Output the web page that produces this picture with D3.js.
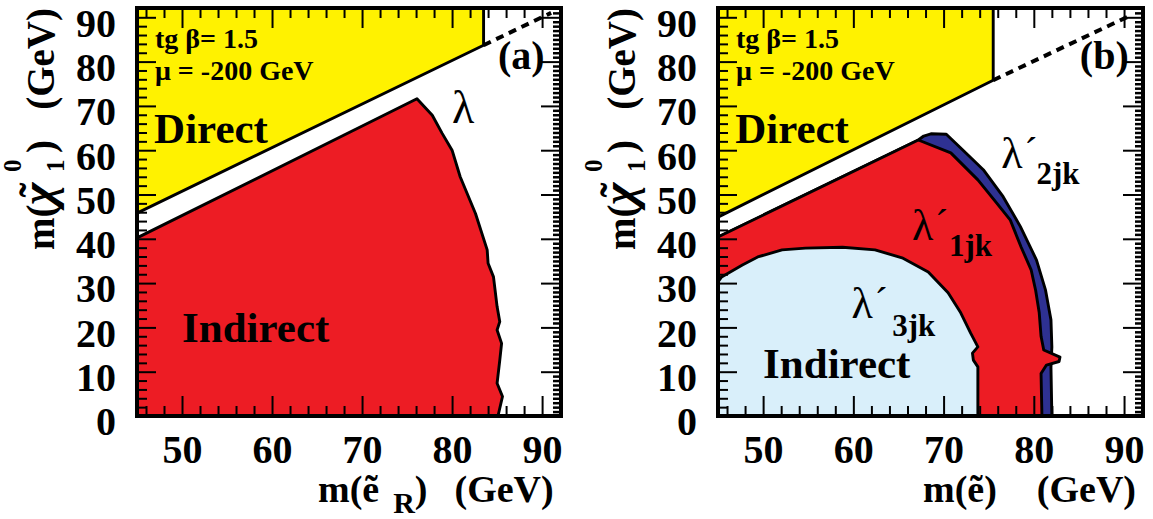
<!DOCTYPE html>
<html><head><meta charset="utf-8">
<script src="https://cdn.jsdelivr.net/npm/d3@7"></script>
<style>body{margin:0;background:#fff}svg{display:block}</style>
</head><body>
<svg id="c" width="1153" height="519"></svg>
<script>
// ---- axis data ----
const xDomain = [45, 92.1];
const yDomain = [0, 92.1];
const xMajorTicks = [50, 60, 70, 80, 90];
const yMajorTicks = [0, 10, 20, 30, 40, 50, 60, 70, 80, 90];
const xMinorTicks = [46, 48, 52, 54, 56, 58, 62, 64, 66, 68, 72, 74, 76, 78, 82, 84, 86, 88, 92];
const yMinorTicks = [2, 4, 6, 8, 12, 14, 16, 18, 22, 24, 26, 28, 32, 34, 36, 38, 42, 44, 46, 48, 52, 54, 56, 58, 62, 64, 66, 68, 72, 74, 76, 78, 82, 84, 86, 88, 92];
const yRightTicks = d3.range(1, 92, 1).filter(v => v % 10 !== 0);

// ---- panel (a) regions: [m(e_R), m(chi)] ----
const directA = [[45, 92.1], [45, 45.8], [83.5, 83.7], [83.5, 92.1]];
const indirectA = [[45, 0], [45, 40.2], [76.1, 71.6], [77.8, 67.9], [78.9, 63.8], [80.0, 60.0], [80.9, 54.0],
  [82.6, 45.7], [83.9, 37.5], [84.0, 34.5], [84.6, 31.4], [85.0, 24.7], [85.3, 21.3], [85.0, 19.4],
  [85.5, 16.4], [85.3, 12.6], [85.0, 7.4], [85.6, 4.4], [85.1, 0]];
const limitLineA = [[83.5, 83.7], [91, 91]];

// ---- panel (b) regions ----
const directB = [[45, 92.1], [45, 44.9], [75.5, 75.8], [75.5, 92.1]];
const lambda2B = [[45, 0], [45, 40.4], [67.2, 62.3], [67.8, 63.2], [68.6, 63.7], [70.3, 63.6], [72.1, 60.1],
  [74.4, 55.6], [76.6, 49.5], [78.5, 42.8], [80.3, 35.2], [81.3, 28.4], [81.9, 21.7], [82.0, 15.6],
  [81.9, 11.0], [82.0, 0]];
const lambda1B = [[45, 0], [45, 40.4], [67.2, 62.3], [70.8, 59.4], [73.8, 53.3], [75.6, 48.8], [77.4, 44.2],
  [78.6, 38.1], [79.7, 33.0], [80.2, 28.4], [80.6, 23.3], [80.8, 18.0], [81.1, 14.9], [82.9, 13.3],
  [82.8, 12.3], [81.4, 11.5], [80.8, 9.6], [80.9, 0]];
const lambda3B = [[45, 0], [45, 30.3], [45.4, 31.4], [47.7, 34.1], [49.4, 35.9], [52.1, 37.5], [54.7, 37.9],
  [58.8, 38.1], [62.4, 37.5], [65.4, 35.7], [68.3, 32.5], [70.5, 27.8], [71.9, 23.3], [73.0, 18.7],
  [73.8, 15.6], [73.2, 14.2], [73.3, 12.6], [73.8, 11.1], [73.8, 0]];
const limitLineB = [[75.5, 75.8], [90.8, 90.5]];

const YELLOW = "#fff200", RED = "#ed1c24", LIGHTBLUE = "#d9effa", DARKBLUE = "#2e3192";
const FONT = "'Liberation Serif', 'Times New Roman', serif";

const svg = d3.select("#c");
const plotTop = 8, plotBottom = 416;

function drawPanel(left, right, regions, limitLine, labelName, titleSub) {
  const x = d3.scaleLinear().domain(xDomain).range([left, right]);
  const y = d3.scaleLinear().domain(yDomain).range([plotBottom, plotTop]);
  const line = d3.line().x(d => x(d[0])).y(d => y(d[1]));
  const g = svg.append("g");

  regions.forEach(r => {
    g.append("path").attr("d", line(r.pts) + "Z")
      .attr("fill", r.color).attr("stroke", "#000").attr("stroke-width", 2.9)
      .attr("stroke-linejoin", "round");
  });
  g.append("path").attr("d", line(limitLine)).attr("fill", "none")
    .attr("stroke", "#000").attr("stroke-width", 4).attr("stroke-dasharray", "8,6");

  const styleTicks = sel => { sel.select(".domain").remove(); sel.selectAll("line").attr("stroke", "#000").attr("stroke-width", 2); };
  const styleLabels = s => s.selectAll("text").style("font-family", FONT).style("font-weight", "bold")
    .style("font-size", "40px").attr("fill", "#000");

  // bottom
  g.append("g").attr("transform", `translate(0,${plotBottom})`)
    .call(d3.axisBottom(x).tickValues(xMajorTicks).tickSize(-20).tickFormat(d3.format("d")))
    .call(styleTicks).call(styleLabels)
    .call(s => s.selectAll("text").attr("y", 47).attr("dy", 0));
  g.append("g").attr("transform", `translate(0,${plotBottom})`)
    .call(d3.axisBottom(x).tickValues(xMinorTicks).tickSize(-10).tickFormat("")).call(styleTicks);
  // top
  g.append("g").attr("transform", `translate(0,${plotTop})`)
    .call(d3.axisTop(x).tickValues(xMajorTicks).tickSize(-20).tickFormat("")).call(styleTicks);
  g.append("g").attr("transform", `translate(0,${plotTop})`)
    .call(d3.axisTop(x).tickValues(xMinorTicks).tickSize(-10).tickFormat("")).call(styleTicks);
  // left
  g.append("g").attr("transform", `translate(${left},0)`)
    .call(d3.axisLeft(y).tickValues(yMajorTicks).tickSize(-19).tickPadding(21).tickFormat(d3.format("d")))
    .call(styleTicks).call(styleLabels)
    .call(s => s.selectAll("text").attr("dy", "0.47em"));
  g.append("g").attr("transform", `translate(${left},0)`)
    .call(d3.axisLeft(y).tickValues(yMinorTicks).tickSize(-10).tickFormat("")).call(styleTicks);
  // right
  g.append("g").attr("transform", `translate(${right},0)`)
    .call(d3.axisRight(y).tickValues(yMajorTicks).tickSize(-20).tickFormat("")).call(styleTicks);
  g.append("g").attr("transform", `translate(${right},0)`)
    .call(d3.axisRight(y).tickValues(yRightTicks).tickSize(-8).tickFormat("")).call(styleTicks)
    .call(s => s.selectAll("line").attr("stroke-width", 2.5));

  g.append("rect").attr("x", left).attr("y", plotTop).attr("width", right - left).attr("height", plotBottom - plotTop)
    .attr("fill", "none").attr("stroke", "#000").attr("stroke-width", 4);

  const txt = (px, py, s, size, weight, anchor) => g.append("text")
    .attr("x", px).attr("y", py).attr("text-anchor", anchor || "start")
    .style("font-family", FONT).style("font-weight", weight || "bold").style("font-size", size + "px").text(s);

  txt(x(47.0), y(83.1), "tg β= 1.5", 28);
  txt(x(47.0), y(75.8), "μ = -200 GeV", 28);
  txt(x(46.9), y(61.6), "Direct", 43);
  txt(x(85.1), y(78.4), labelName, 40);

  // y title (rotated; local x = -screenY, local y = screenX - bx)
  const bx = left - 83;
  const rg = g.append("g").attr("transform", `translate(${bx},0) rotate(-90)`);
  const rt = (u, v, s, size, weight, anchor) => rg.append("text").attr("x", -u).attr("y", v)
    .attr("text-anchor", anchor || "start")
    .style("font-family", FONT).style("font-weight", weight || "bold").style("font-size", size + "px").text(s);
  rt(250, 0, "m(", 39);
  rt(205, 0, "χ", 48).style("font-style", "italic");
  rt(190, -4, "˜", 44, "bold", "middle");
  rt(172, 10, "1", 25);
  rt(172, -33, "0", 25);
  rt(153, 0, ")", 39);
  rt(8, 0, "(GeV)", 39, "bold", "end");

  // x title
  const xt = g.append("text").attr("x", right - (titleSub ? 243 : 220)).attr("y", 502)
    .style("font-family", FONT).style("font-weight", "bold").style("font-size", "38px");
  xt.append("tspan").text("m(ẽ");
  if (titleSub) {
    xt.append("tspan").attr("dx", 14).attr("dy", 11).style("font-size", "30px").text(titleSub);
    xt.append("tspan").attr("dy", -11).text(")");
    xt.append("tspan").attr("dx", 27).text("(GeV)");
  } else {
    xt.append("tspan").text(")");
    xt.append("tspan").attr("dx", 40).text("(GeV)");
  }
  return {x, y, txt, g};
}

// panel (a)
const pa = drawPanel(137, 561, [
  {pts: directA, color: YELLOW},
  {pts: indirectA, color: RED}
], limitLineA, "(a)", "R");
pa.txt(pa.x(50.0), pa.y(16.7), "Indirect", 43);
pa.txt(pa.x(80.0), pa.y(66.1), "λ", 46, "normal");

// panel (b)
const pb = drawPanel(718, 1143, [
  {pts: directB, color: YELLOW},
  {pts: lambda2B, color: DARKBLUE},
  {pts: lambda1B, color: RED},
  {pts: lambda3B, color: LIGHTBLUE}
], limitLineB, "(b)", null);
pb.txt(pb.x(50.0), pb.y(8.6), "Indirect", 43);

function lamLabel(p, lx, ly, sub, sx, sy) {
  p.txt(p.x(lx), p.y(ly), "λ", 44, "normal");
  p.txt(p.x(lx) + 23, p.y(ly) - 3, "´", 40, "normal");
  p.txt(p.x(sx), p.y(sy), sub, 31, "bold");
}
lamLabel(pb, 76.4, 56.0, "2jk", 80.3, 52.4);
lamLabel(pb, 66.5, 39.7, "1jk", 70.6, 36.1);
lamLabel(pb, 59.8, 22.1, "3jk", 64.3, 18.1);
</script>
</body></html>
